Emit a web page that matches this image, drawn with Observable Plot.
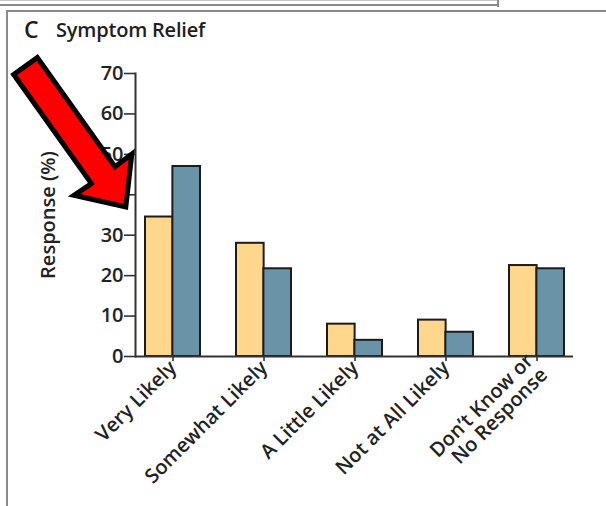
<!DOCTYPE html>
<html><head><meta charset="utf-8">
<script src="https://cdn.jsdelivr.net/npm/d3@7"></script>
<script src="https://cdn.jsdelivr.net/npm/@observablehq/plot@0.6"></script>
<style>
html,body{margin:0;padding:0;background:#fff;}
#wrap{position:relative;width:606px;height:506px;overflow:hidden;font-family:"Open Sans",sans-serif;color:#1e1e1e;}
.ln{position:absolute;}
#chart{position:absolute;left:0;top:0;}
#letter{position:absolute;left:24px;top:18px;font-size:23px;font-weight:600;line-height:1;}
#title{position:absolute;left:56px;top:20px;font-size:20px;font-weight:600;line-height:1;letter-spacing:-0.2px;}
#arrow{position:absolute;left:0;top:0;}
</style></head>
<body>
<div id="wrap">
  <div class="ln" style="left:0;top:0;width:498px;height:1px;background:#c8c8c8"></div>
  <div class="ln" style="left:0;top:4px;width:498px;height:2px;background:#8a8a8a"></div>
  <div class="ln" style="left:497px;top:0;width:2px;height:7px;background:#8a8a8a"></div>
  <div class="ln" style="left:6px;top:10px;width:600px;height:2px;background:#8a8a8a"></div>
  <div class="ln" style="left:6px;top:10px;width:2px;height:496px;background:#8a8a8a"></div>
  <div id="chart"></div>
  <div id="letter">C</div>
  <div id="title">Symptom Relief</div>
  <svg id="arrow" width="606" height="506">
    <polygon points="13.7,74.5 37.3,57.6 115,166.7 131.8,154.1 125.8,206.9 74,195.3 91.4,183.5"
      fill="#ff0000" stroke="#000" stroke-width="5" stroke-linejoin="miter"/>
  </svg>
</div>
<script>
const categories = ["Very Likely","Somewhat Likely","A Little Likely","Not at All Likely","Don\u2019t Know or\nNo Response"];
const seriesA = [34.5, 28, 8, 9, 22.5];
const seriesB = [47, 21.7, 4, 6, 21.7];
const yTicks = [0,10,20,30,40,50,60,70];

const W = 606, H = 506, mL = 135, mR = 33, mT = 73, mB = 150;
const pIn = 0.4, pOut = 0.1;
const step = (W - mL - mR) / (categories.length - pIn + 2 * pOut);
const bw = step * (1 - pIn);

const dataA = categories.map((c, i) => ({c, v: seriesA[i]}));
const dataB = categories.map((c, i) => ({c, v: seriesB[i]}));

const chart = Plot.plot({
  width: W, height: H,
  marginLeft: mL, marginRight: mR, marginTop: mT, marginBottom: mB,
  style: {fontFamily: "Open Sans, sans-serif", fontSize: "20px", color: "#222", background: "transparent"},
  x: {domain: categories, paddingInner: pIn, paddingOuter: pOut},
  y: {domain: [0, 70]},
  marks: [
    Plot.barY(dataA, {x: "c", y: "v", fill: "#fed68c", stroke: "#1c1c1c", strokeWidth: 2, insetRight: bw / 2}),
    Plot.barY(dataB, {x: "c", y: "v", fill: "#6994a8", stroke: "#1c1c1c", strokeWidth: 2, insetLeft: bw / 2}),
    Plot.frame({anchor: "left", stroke: "#333", strokeWidth: 2}),
    Plot.ruleY([0], {stroke: "#333", strokeWidth: 2}),
    Plot.axisY({ticks: yTicks, tickSize: 11, tickPadding: 1, stroke: "#333", strokeWidth: 1.6,
      label: "Response (%)", labelAnchor: "center", labelArrow: "none", labelOffset: 95,
      fontSize: 20, fontWeight: 600}),
    Plot.axisX({tickSize: 5, tickPadding: 3, tickRotate: -45, stroke: "#333", strokeWidth: 1.6,
      label: null, fontSize: 20, fontWeight: 600})
  ]
});
document.getElementById("chart").appendChild(chart);
</script>
</body></html>
